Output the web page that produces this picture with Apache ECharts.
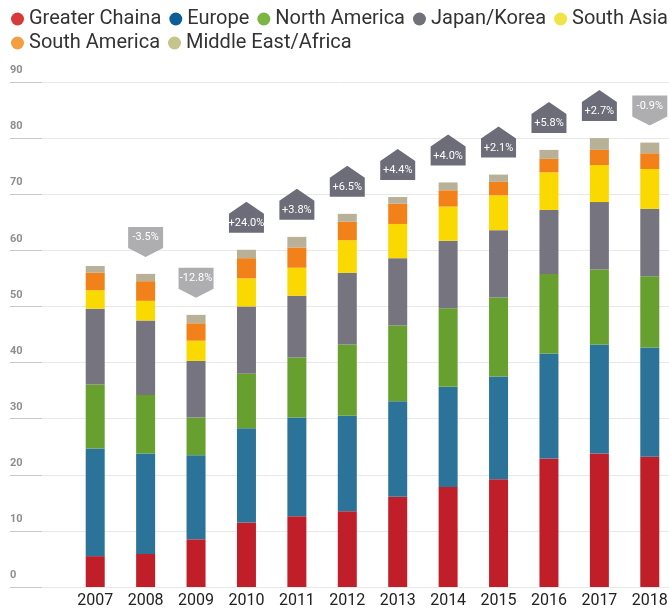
<!DOCTYPE html>
<html><head><meta charset="utf-8">
<script src="https://cdn.jsdelivr.net/npm/echarts@6.0.0/dist/echarts.min.js"></script>
<style>html,body{margin:0;padding:0;background:#fff}#c{width:669px;height:608px}</style>
</head><body><div id="c"></div>
<script>
const years = ['2007','2008','2009','2010','2011','2012','2013','2014','2015','2016','2017','2018'];
const greaterChina     = [5.5, 5.9, 8.5, 11.5, 12.6, 13.5, 16.1, 17.8, 19.2, 22.9, 23.8, 23.2];
const europe           = [19.2, 17.9, 15.0, 16.8, 17.6, 17.0, 17.0, 17.9, 18.3, 18.7, 19.4, 19.5];
const northAmerica     = [11.4, 10.4, 6.7, 9.7, 10.7, 12.7, 13.5, 14.0, 14.1, 14.2, 13.4, 12.7];
const japanKorea       = [13.5, 13.3, 10.1, 12.0, 11.0, 12.8, 12.0, 12.0, 12.0, 11.4, 12.0, 12.0];
const southAsia        = [3.3, 3.5, 3.6, 5.0, 5.0, 5.8, 6.1, 6.1, 6.2, 6.7, 6.6, 7.1];
const southAmerica     = [3.1, 3.5, 3.1, 3.6, 3.6, 3.3, 3.6, 2.9, 2.4, 2.4, 2.7, 2.8];
const middleEastAfrica = [1.2, 1.3, 1.5, 1.5, 1.9, 1.4, 1.2, 1.4, 1.3, 1.6, 2.1, 1.9];
const growthLabels = ['', '-3.5%', '-12.8%', '+24.0%', '+3.8%', '+6.5%', '+4.4%', '+4.0%', '+2.1%', '+5.8%', '+2.7%', '-0.9%'];
const yMin = 0, yMax = 90, yStep = 10;

const seriesDefs = [
  {name: 'Greater Chaina', data: greaterChina, color: '#c01f2a', legend: '#d63a3a'},
  {name: 'Europe', data: europe, color: '#2b7399', legend: '#0d5e95'},
  {name: 'North America', data: northAmerica, color: '#67a02f', legend: '#7db543'},
  {name: 'Japan/Korea', data: japanKorea, color: '#76757f', legend: '#707179'},
  {name: 'South Asia', data: southAsia, color: '#f9d900', legend: '#efe444'},
  {name: 'South America', data: southAmerica, color: '#f28119', legend: '#f0a042'},
  {name: 'Middle East/Africa', data: middleEastAfrica, color: '#b8b097', legend: '#c4c48c'}
];
const totals = years.map((_, i) => seriesDefs.reduce((s, d) => s + d.data[i], 0));

const chart = echarts.init(document.getElementById('c'), null, {renderer: 'canvas'});
const series = seriesDefs.map(d => ({
  name: d.name, type: 'bar', stack: 'total', barWidth: 19,
  xAxisIndex: 0, yAxisIndex: 0,
  itemStyle: {color: d.color}, data: d.data
}));
series.push({
  type: 'custom', name: 'growth', xAxisIndex: 0, yAxisIndex: 0, z: 5,
  data: totals.map((t, i) => [i, t]),
  renderItem: function (params, api) {
    const i = api.value(0);
    const lbl = growthLabels[i];
    if (!lbl) return null;
    const p = api.coord([i, api.value(1)]);
    const x = p[0], b = p[1] - 17, hw = 17.5;
    let pts, ty, fill;
    if (lbl[0] === '-') {
      pts = [[x - hw, b - 30], [x + hw, b - 30], [x + hw, b - 9], [x, b], [x - hw, b - 9]];
      ty = b - 19.5; fill = '#aeaeb1';
    } else {
      pts = [[x - hw, b], [x - hw, b - 19], [x, b - 31], [x + hw, b - 19], [x + hw, b]];
      ty = b - 9.5; fill = '#6d6d79';
    }
    return {type: 'group', children: [
      {type: 'polygon', shape: {points: pts}, style: {fill: fill}},
      {type: 'text', style: {text: lbl, x: x, y: ty, align: 'center', verticalAlign: 'middle',
        fill: '#ffffff', fontSize: 11, fontFamily: '"Liberation Sans Narrow", Roboto, sans-serif'}}
    ]};
  }
});

const legendBase = {
  left: 11, itemGap: 8, itemWidth: 13, itemHeight: 13, icon: 'circle', padding: 0, orient: 'horizontal',
  textStyle: {fontFamily: 'Roboto, sans-serif', fontSize: 20, color: '#333', padding: [0, 0, 0, 0]}
};
const legendItems = seriesDefs.map(d => ({name: d.name, itemStyle: {color: d.legend}}));

chart.setOption({
  animation: false,
  backgroundColor: '#ffffff',
  legend: [
    Object.assign({}, legendBase, {top: 9, data: legendItems.slice(0, 5)}),
    Object.assign({}, legendBase, {top: 33, data: legendItems.slice(5)})
  ],
  grid: [
    {left: 70, width: 605, top: 82, bottom: 21, outerBoundsMode: 'none', containLabel: false},
    {left: 10, right: 0, top: 82, bottom: 21, outerBoundsMode: 'none', containLabel: false}
  ],
  xAxis: [
    {type: 'category', gridIndex: 0, data: years,
      axisLine: {show: false}, axisTick: {show: false},
      axisLabel: {interval: 0, margin: 6, fontSize: 16, color: '#222', fontFamily: 'Roboto, sans-serif', hideOverlap: false}},
    {type: 'value', gridIndex: 1, show: false, min: 0, max: 1}
  ],
  yAxis: [
    {type: 'value', gridIndex: 0, min: yMin, max: yMax, interval: yStep, show: false},
    {type: 'value', gridIndex: 1, min: yMin, max: yMax, interval: yStep,
      axisLine: {show: false},
      axisTick: {show: true, inside: true, length: 32, lineStyle: {color: '#c9c9c9', width: 1}},
      splitLine: {lineStyle: {color: '#e8e8e8', width: 1}},
      axisLabel: {inside: true, margin: 0, verticalAlign: 'bottom', padding: [0, 0, 6, 0],
        fontSize: 11, fontWeight: 'bold', color: '#8e8e8e', fontFamily: 'Roboto, sans-serif'}}
  ],
  series: series
});
</script></body></html>
